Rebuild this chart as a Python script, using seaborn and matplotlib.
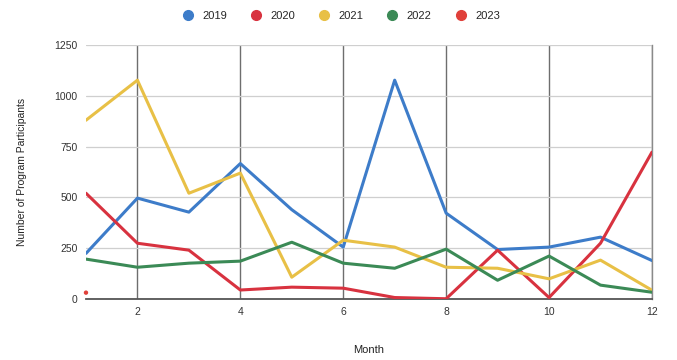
import matplotlib
matplotlib.use("Agg")
import matplotlib.pyplot as plt
from matplotlib.lines import Line2D
import seaborn as sns
import pandas as pd

months = list(range(1, 13))
y2019 = [225, 497, 428, 667, 440, 256, 1077, 423, 244, 256, 305, 190]
y2020 = [521, 275, 241, 45, 59, 54, 8, 2, 241, 8, 275, 723]
y2021 = [880, 1077, 521, 620, 108, 290, 256, 157, 152, 100, 192, 44]
y2022 = [197, 157, 177, 187, 280, 177, 152, 246, 93, 212, 69, 34]
months_2023 = [1]
y2023 = [32]
years = ["2019", "2020", "2021", "2022", "2023"]
colors = ["#3d7cc9", "#d8323f", "#e8c046", "#3b8a56", "#e0403a"]
yticks = [0, 250, 500, 750, 1000, 1250]
xticks = [2, 4, 6, 8, 10, 12]

rows = []
for yr, vals in zip(years[:4], [y2019, y2020, y2021, y2022]):
    for m, v in zip(months, vals):
        rows.append({"Month": m, "Participants": v, "Year": yr})
df = pd.DataFrame(rows)
df23 = pd.DataFrame({"Month": months_2023, "Participants": y2023, "Year": "2023"})

sns.set_theme(style="white")
plt.rcParams['font.family'] = ['Liberation Sans', 'DejaVu Sans']

fig = plt.figure(figsize=(6.77, 3.6), dpi=100)
ax = fig.add_axes([0.127, 0.169, 0.836, 0.706])

palette = dict(zip(years, colors))
sns.lineplot(data=df, x="Month", y="Participants", hue="Year", palette=palette,
             linewidth=2.2, ax=ax, legend=False, zorder=3)
sns.scatterplot(data=df23, x="Month", y="Participants", color=colors[4],
                s=10, ax=ax, legend=False, zorder=4, edgecolor="none", clip_on=False)

ax.set_xlim(1, 12)
ax.set_ylim(0, 1250)
ax.set_xticks(xticks)
ax.set_yticks(yticks)
ax.tick_params(axis="both", labelsize=7.5, colors="#333333", length=0, pad=6)
ax.grid(axis="y", color="#cfcfcf", linewidth=0.9)
ax.grid(axis="x", color="#6e6e6e", linewidth=1.0)
ax.set_axisbelow(True)
for s in ["top", "left"]:
    ax.spines[s].set_visible(False)
ax.spines["right"].set_color("#8a8a8a")
ax.spines["right"].set_linewidth(1.0)
ax.spines["bottom"].set_color("#555555")
ax.spines["bottom"].set_linewidth(1.3)
ax.set_xlabel("Month", fontsize=8, color="#222222", labelpad=20)
ax.set_ylabel("Number of Program Participants", fontsize=7.5, color="#222222", labelpad=20)

handles = [Line2D([0], [0], marker="o", linestyle="", markersize=7,
                  markerfacecolor=c, markeredgecolor=c) for c in colors]
fig.legend(handles, years, loc="center", bbox_to_anchor=(0.5, 0.955), ncol=5,
           frameon=False, fontsize=8, handletextpad=0.3, columnspacing=1.6)

fig.savefig("out.png", dpi=100)
